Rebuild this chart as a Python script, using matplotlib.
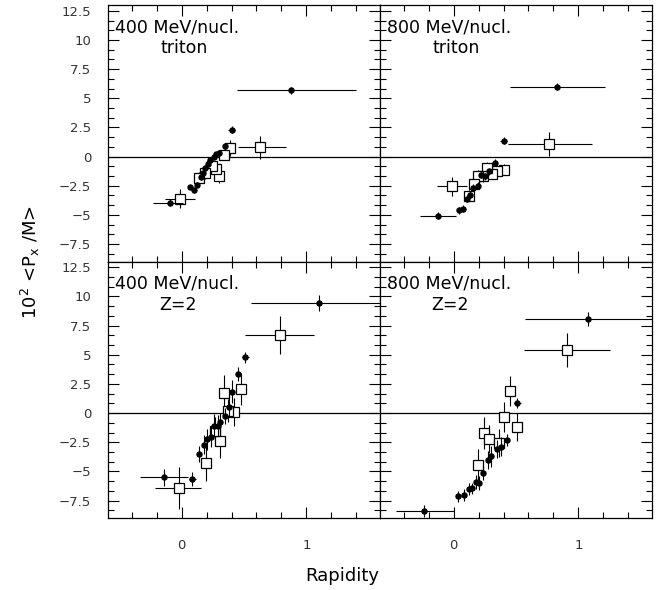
import numpy as np
import matplotlib.pyplot as plt
from matplotlib.ticker import MultipleLocator

# ---- 400 MeV/nucl. triton ----
t400_fx = [0.88, 0.40, 0.344, 0.296, 0.277, 0.256, 0.23, 0.21, 0.19, 0.17, 0.152, 0.126, 0.099, 0.064, -0.094]
t400_fy = [5.69, 2.32, 0.89, 0.34, 0.20, 0.00, -0.31, -0.60, -0.97, -1.40, -1.77, -2.40, -2.90, -2.62, -3.98]
t400_fxl = [0.44, 0.03, 0, 0, 0, 0, 0, 0, 0, 0, 0, 0, 0, 0, 0.136]
t400_fxr = [0.52, 0.03, 0, 0, 0, 0, 0, 0, 0, 0, 0, 0, 0, 0, 0.104]
t400_fye = [0.3, 0.3, 0.2, 0.2, 0.2, 0.2, 0.2, 0.2, 0.2, 0.2, 0.2, 0.2, 0.2, 0.2, 0.3]
t400_ox = [0.63, 0.39, 0.336, 0.298, 0.277, 0.246, 0.19, 0.139, -0.016]
t400_oy = [0.80, 0.75, 0.17, -1.63, -1.10, -0.83, -1.40, -1.83, -3.60]
t400_oxl = [0.18, 0, 0, 0, 0, 0, 0, 0, 0.12]
t400_oxr = [0.21, 0, 0, 0, 0, 0, 0, 0, 0.12]
t400_oye = [1.0, 0.7, 0.5, 0.6, 0.5, 0.5, 0.5, 0.5, 0.8]

# ---- 800 MeV/nucl. triton ----
t800_fx = [0.83, 0.40, 0.33, 0.28, 0.25, 0.216, 0.192, 0.157, 0.13, 0.11, 0.077, 0.043, -0.128]
t800_fy = [5.98, 1.37, -0.54, -1.26, -1.69, -1.55, -2.49, -2.69, -3.26, -3.63, -4.46, -4.60, -5.06]
t800_fxl = [0.38, 0.03, 0, 0, 0, 0, 0, 0, 0, 0, 0, 0, 0.14]
t800_fxr = [0.38, 0.03, 0, 0, 0, 0, 0, 0, 0, 0, 0, 0, 0.15]
t800_fye = [0.3, 0.3, 0.3, 0.3, 0.3, 0.3, 0.3, 0.3, 0.3, 0.3, 0.3, 0.3, 0.3]
t800_ox = [0.766, 0.40, 0.344, 0.304, 0.264, 0.237, 0.197, 0.163, 0.123, -0.016]
t800_oy = [1.09, -1.12, -1.26, -1.46, -0.97, -1.69, -1.63, -2.35, -3.35, -2.55]
t800_oxl = [0.33, 0, 0, 0, 0, 0, 0, 0, 0, 0.12]
t800_oxr = [0.34, 0, 0, 0, 0, 0, 0, 0, 0, 0.12]
t800_oye = [1.0, 0.5, 0.5, 0.5, 0.5, 0.5, 0.5, 0.5, 0.5, 0.8]

# ---- 400 MeV/nucl. Z=2 ----
z400_fx = [1.104, 0.512, 0.45, 0.405, 0.376, 0.344, 0.31, 0.29, 0.258, 0.232, 0.205, 0.178, 0.139, 0.086, -0.141]
z400_fy = [9.44, 4.78, 3.35, 1.83, 0.54, -0.23, -0.80, -1.09, -1.09, -2.03, -2.23, -2.72, -3.52, -5.67, -5.52]
z400_fxl = [0.55, 0.03, 0, 0, 0, 0, 0, 0, 0, 0, 0, 0, 0, 0.03, 0.195]
z400_fxr = [0.55, 0.03, 0, 0, 0, 0, 0, 0, 0, 0, 0, 0, 0, 0.03, 0.19]
z400_fye = [0.7, 0.5, 0.6, 1.0, 0.9, 0.7, 0.8, 0.9, 1.0, 0.9, 0.9, 0.8, 0.7, 0.6, 0.7]
z400_ox = [0.79, 0.477, 0.339, 0.419, 0.37, 0.31, 0.264, 0.192, -0.024]
z400_oy = [6.70, 2.06, 1.69, 0.11, 0.20, -2.37, -1.52, -4.32, -6.46]
z400_oxl = [0.28, 0, 0, 0, 0, 0, 0, 0, 0.19]
z400_oxr = [0.27, 0, 0, 0, 0, 0, 0, 0, 0.18]
z400_oye = [1.6, 1.4, 1.6, 1.2, 1.0, 1.5, 1.2, 1.5, 1.8]

# ---- 800 MeV/nucl. Z=2 ----
z800_fx = [1.08, 0.51, 0.43, 0.38, 0.344, 0.30, 0.272, 0.237, 0.203, 0.179, 0.149, 0.123, 0.085, 0.037, -0.235]
z800_fy = [8.07, 0.86, -2.29, -2.89, -3.09, -3.72, -4.03, -5.15, -6.00, -5.95, -6.46, -6.52, -7.01, -7.15, -8.39]
z800_fxl = [0.51, 0.03, 0, 0, 0, 0, 0, 0, 0, 0, 0, 0, 0, 0, 0.23]
z800_fxr = [0.52, 0.03, 0, 0, 0, 0, 0, 0, 0, 0, 0, 0, 0, 0, 0.235]
z800_fye = [0.6, 0.4, 0.5, 0.8, 0.8, 0.9, 0.8, 0.6, 0.6, 0.6, 0.5, 0.5, 0.5, 0.5, 0.5]
z800_ox = [0.907, 0.45, 0.40, 0.512, 0.243, 0.28, 0.36, 0.192]
z800_oy = [5.41, 1.91, -0.32, -1.23, -1.72, -2.23, -2.60, -4.44]
z800_oxl = [0.34, 0, 0, 0, 0, 0, 0, 0]
z800_oxr = [0.35, 0, 0, 0, 0, 0, 0, 0]
z800_oye = [1.5, 1.3, 1.3, 1.2, 1.4, 1.2, 1.2, 1.4]

panels = [
    ("400 MeV/nucl.", "triton", t400_fx, t400_fy, t400_fxl, t400_fxr, t400_fye,
     t400_ox, t400_oy, t400_oxl, t400_oxr, t400_oye),
    ("800 MeV/nucl.", "triton", t800_fx, t800_fy, t800_fxl, t800_fxr, t800_fye,
     t800_ox, t800_oy, t800_oxl, t800_oxr, t800_oye),
    ("400 MeV/nucl.", "Z=2", z400_fx, z400_fy, z400_fxl, z400_fxr, z400_fye,
     z400_ox, z400_oy, z400_oxl, z400_oxr, z400_oye),
    ("800 MeV/nucl.", "Z=2", z800_fx, z800_fy, z800_fxl, z800_fxr, z800_fye,
     z800_ox, z800_oy, z800_oxl, z800_oxr, z800_oye),
]

plt.rcParams['font.family'] = 'DejaVu Sans'
fig = plt.figure(figsize=(6.67, 5.9), dpi=100)

W = 272.0 / 667
H = 256.5 / 590
x0 = 108.0 / 667
y_top = 1 - 261.5 / 590
y_bot = 1 - 518.0 / 590
pos = [(x0, y_top), (x0 + W, y_top), (x0, y_bot), (x0 + W, y_bot)]

for i, p in enumerate(panels):
    (title, sub, fx, fy, fxl, fxr, fye, ox, oy, oxl, oxr, oye) = p
    ax = fig.add_axes([pos[i][0], pos[i][1], W, H])
    ax.set_xlim(-0.59, 1.59)
    ax.set_ylim(-9.0, 13.0)
    ax.axhline(0, color='black', lw=0.9, zorder=1)

    ax.errorbar(ox, oy, xerr=[oxl, oxr], yerr=oye, fmt='s', ms=7.5,
                mfc='white', mec='black', mew=0.9, ecolor='black',
                elinewidth=0.8, capsize=0, zorder=3)
    ax.errorbar(fx, fy, xerr=[fxl, fxr], yerr=fye, fmt='o', ms=3.6,
                mfc='black', mec='black', ecolor='black',
                elinewidth=0.8, capsize=0, zorder=4)

    ax.text(-0.53, 11.1, title, fontsize=12.5, va='center', ha='left')
    ax.text(-0.17 if sub == "triton" else -0.18, 9.3, sub, fontsize=12.5,
            va='center', ha='left')

    ax.xaxis.set_major_locator(MultipleLocator(1))
    ax.xaxis.set_minor_locator(MultipleLocator(0.2))
    ax.yaxis.set_major_locator(MultipleLocator(2.5))
    ax.yaxis.set_minor_locator(MultipleLocator(2.5 / 3))
    ax.tick_params(which='both', direction='in', top=True, right=True,
                   width=0.8, colors='black', labelcolor='#333333')
    ax.tick_params(which='major', length=8)
    ax.tick_params(which='minor', length=4.5)
    ax.tick_params(axis='x', pad=15, labelsize=9.5)
    ax.tick_params(axis='y', pad=12, labelsize=9.5)
    for s in ax.spines.values():
        s.set_linewidth(0.9)

    if i in (0, 2):
        ax.set_yticks([-7.5, -5, -2.5, 0, 2.5, 5, 7.5, 10, 12.5])
        ax.set_yticklabels(['\u22127.5', '\u22125', '\u22122.5', '0', '2.5',
                            '5', '7.5', '10', '12.5'])
    else:
        ax.set_yticklabels([])
    if i in (0, 1):
        ax.set_xticklabels([])
    else:
        ax.set_xticks([0, 1])
        ax.set_xticklabels(['0', '1'])

fig.text(342 / 667, 1 - 576 / 590, "Rapidity", fontsize=13, ha='center', va='center')
fig.text(30 / 667, 1 - 262 / 590, r"$10^2$ <P$_\mathregular{x}$ /M>", fontsize=13,
         rotation=90, ha='center', va='center')

plt.savefig("out.png", dpi=100)
